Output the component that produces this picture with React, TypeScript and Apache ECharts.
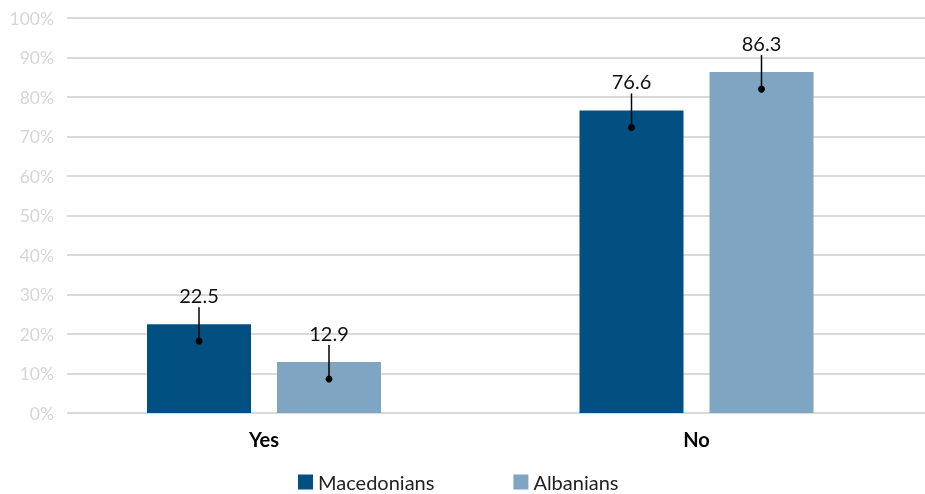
import React, { useEffect, useRef } from "react";
import * as echarts from "echarts";

const categories = ["Yes", "No"];
const seriesNames = ["Macedonians", "Albanians"];
const macedonians = [22.5, 76.6];
const albanians = [12.9, 86.3];
const yTicks = [0, 10, 20, 30, 40, 50, 60, 70, 80, 90, 100];

const colors = ["#024f81", "#7fa5c2"];
const FONT = "Lato, 'Noto Sans', sans-serif";

export default function App() {
  const ref = useRef<HTMLDivElement>(null);
  useEffect(() => {
    if (!ref.current) return;
    const chart = echarts.init(ref.current, null, { renderer: "svg" });
    const offsets = [-65, 65];
    const makeAnnot = (idx: number, vals: number[]) => ({
      type: "custom",
      name: seriesNames[idx] + "-annot",
      xAxisIndex: 1,
      yAxisIndex: 1,
      z: 10,
      silent: true,
      data: vals.map((v, i) => [i, v]),
      renderItem: (params: any, api: any) => {
        const p = api.coord([api.value(0), api.value(1)]);
        const x = p[0] + offsets[idx];
        const top = p[1];
        return {
          type: "group",
          children: [
            {
              type: "line",
              shape: { x1: x, y1: top - 17, x2: x, y2: top + 17 },
              style: { stroke: "#000", lineWidth: 1.5 },
            },
            {
              type: "circle",
              shape: { cx: x, cy: top + 17, r: 3.5 },
              style: { fill: "#000" },
            },
            {
              type: "text",
              x: x,
              y: top - 29,
              style: {
                text: api.value(1).toFixed(1),
                fill: "#111",
                font: `20px ${FONT}`,
                align: "center",
                verticalAlign: "middle",
              },
            },
          ],
        };
      },
    });
    chart.setOption({
      animation: false,
      textStyle: { fontFamily: FONT },
      grid: [
        { left: 67, right: 0, top: 18, bottom: 81, containLabel: false },
        { left: 47.75, right: 12.25, top: 18, bottom: 81, containLabel: false },
      ],
      legend: {
        bottom: 2,
        left: 298,
        padding: 0,
        icon: "rect",
        itemWidth: 15,
        itemHeight: 15,
        itemGap: 79,
        data: seriesNames,
        textStyle: { fontSize: 20, color: "#222", fontFamily: FONT },
      },
      xAxis: [
        {
          type: "value",
          gridIndex: 0,
          show: false,
          min: 0,
          max: 1,
        },
        {
          type: "category",
          gridIndex: 1,
          data: categories,
          axisLine: { show: false },
          axisTick: { show: false },
          axisLabel: {
            color: "#000",
            fontSize: 20,
            fontWeight: "bold",
            margin: 16,
            fontFamily: FONT,
          },
        },
      ],
      yAxis: [
        {
          type: "value",
          gridIndex: 0,
          min: 0,
          max: 100,
          interval: 10,
          axisLine: { show: false },
          axisTick: { show: false },
          axisLabel: {
            formatter: (v: number) => (yTicks.includes(v) ? v + "%" : ""),
            color: "#d6d6d6",
            fontSize: 17.5,
            margin: 13,
            fontFamily: FONT,
          },
          splitLine: { lineStyle: { color: "#d9d9d9", width: 2 } },
        },
        {
          type: "value",
          gridIndex: 1,
          min: 0,
          max: 100,
          show: false,
          splitLine: { show: false },
        },
      ],
      series: [
        {
          type: "bar",
          name: seriesNames[0],
          xAxisIndex: 1,
          yAxisIndex: 1,
          data: macedonians,
          barWidth: 104,
          barGap: "25%",
          itemStyle: { color: colors[0] },
        },
        {
          type: "bar",
          name: seriesNames[1],
          xAxisIndex: 1,
          yAxisIndex: 1,
          data: albanians,
          barWidth: 104,
          barGap: "25%",
          itemStyle: { color: colors[1] },
        },
        makeAnnot(0, macedonians),
        makeAnnot(1, albanians),
      ],
    });
    return () => chart.dispose();
  }, []);
  return (
    <div
      ref={ref}
      style={{ position: "fixed", left: 0, top: 0, width: 925, height: 494 }}
    />
  );
}
